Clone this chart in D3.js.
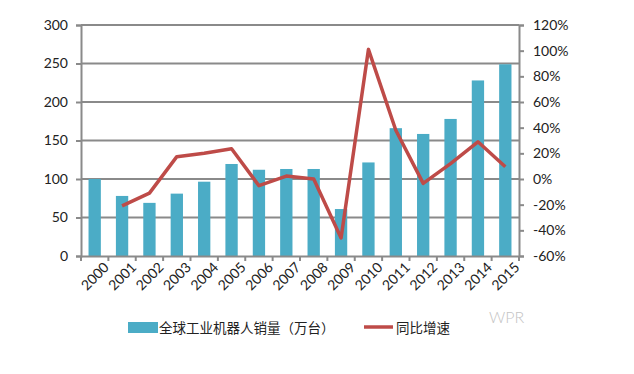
<!DOCTYPE html>
<html><head><meta charset="utf-8">
<script src="https://cdn.jsdelivr.net/npm/d3@7"></script>
<style>body{margin:0;background:#fff}svg{display:block}</style>
</head><body><div id="c"></div>
<script>
const years = ["2000","2001","2002","2003","2004","2005","2006","2007","2008","2009","2010","2011","2012","2013","2014","2015"];
const sales = [100,78,69,81,96.5,119.5,112,113,113,61,121.5,166,158.5,178,228,249];
const growth = [null,-21,-11,17.4,20,23.6,-5.2,2.3,0,-46,101,38,-3.4,12,29,9.6];
const leftTicks = [0,50,100,150,200,250,300];
const rightTicks = [-60,-40,-20,0,20,40,60,80,100,120];
const legendLabels = ["全球工业机器人销量（万台）","同比增速"];

const W=634,H=374;
const m={l:81,r:115,t:25,b:118};
const svg=d3.select("#c").append("svg").attr("width",W).attr("height",H);
const font="Lato, 'Noto Sans CJK SC', sans-serif";
const x=d3.scaleBand().domain(years).range([m.l,W-m.r]).paddingInner(0.55).paddingOuter(0.275);
const xb=d3.scaleBand().domain(years).range([m.l,W-m.r]);
const yL=d3.scaleLinear().domain([0,300]).range([H-m.b,m.t]);
const yR=d3.scaleLinear().domain([-60,120]).range([H-m.b,m.t]);
const grid="#8a8a8a";

// gridlines
svg.append("g").selectAll("line").data(leftTicks.slice(1)).join("line")
 .attr("x1",m.l).attr("x2",W-m.r).attr("y1",d=>yL(d)).attr("y2",d=>yL(d))
 .attr("stroke",grid).attr("stroke-width",2);

// bars
svg.append("g").selectAll("rect").data(years).join("rect")
 .attr("x",d=>x(d)).attr("width",x.bandwidth())
 .attr("y",(d,i)=>yL(sales[i])).attr("height",(d,i)=>yL(0)-yL(sales[i]))
 .attr("fill","#4bacc6");

// left axis
const gl=svg.append("g").attr("transform",`translate(${m.l},0)`)
 .call(d3.axisLeft(yL).tickValues(leftTicks).tickSize(5).tickPadding(8));
// right axis
const gr=svg.append("g").attr("transform",`translate(${W-m.r},0)`)
 .call(d3.axisRight(yR).tickValues(rightTicks).tickSize(5).tickPadding(9).tickFormat(d=>d+"%"));
// bottom axis
const gb=svg.append("g").attr("transform",`translate(0,${H-m.b})`)
 .call(d3.axisBottom(xb).tickSize(0).tickPadding(6));
gb.selectAll("line.b").data(d3.range(years.length+1)).join("line")
 .attr("x1",i=>m.l+i*xb.step()).attr("x2",i=>m.l+i*xb.step()).attr("y1",0).attr("y2",5)
 .attr("stroke",grid).attr("stroke-width",2);
[gl,gr,gb].forEach(g=>{
 g.selectAll(".domain").attr("stroke",grid).attr("stroke-width",2);
 g.selectAll(".tick line").attr("stroke",grid).attr("stroke-width",2);
 g.selectAll("text").attr("font-family",font).attr("font-size",14).attr("fill","#222");
});
gb.selectAll(".tick text").attr("text-anchor","end")
 .attr("transform","translate(5,2) rotate(-45)").attr("dy","0.6em");

// line
const pts=years.map((d,i)=>[xb(d)+xb.bandwidth()/2,growth[i]]).filter(p=>p[1]!==null);
svg.append("path").datum(pts)
 .attr("d",d3.line().x(p=>p[0]).y(p=>yR(p[1])))
 .attr("fill","none").attr("stroke","#be4b48").attr("stroke-width",3.5).attr("stroke-linejoin","round");

// legend
const lg=svg.append("g");
lg.append("rect").attr("x",128).attr("y",322).attr("width",30).attr("height",11).attr("fill","#4bacc6");
lg.append("text").attr("x",159).attr("y",333).text(legendLabels[0])
 .attr("font-family",font).attr("font-size",13.5).attr("fill","#222");
lg.append("line").attr("x1",364).attr("x2",393).attr("y1",327).attr("y2",327)
 .attr("stroke","#be4b48").attr("stroke-width",3.5);
lg.append("text").attr("x",396).attr("y",333).text(legendLabels[1])
 .attr("font-family",font).attr("font-size",13.5).attr("fill","#222");
// watermark
svg.append("text").attr("x",489).attr("y",323).text("WPR")
 .attr("font-family",font).attr("font-size",16).attr("font-weight",300).attr("fill","#c4c4c4");
</script></body></html>
